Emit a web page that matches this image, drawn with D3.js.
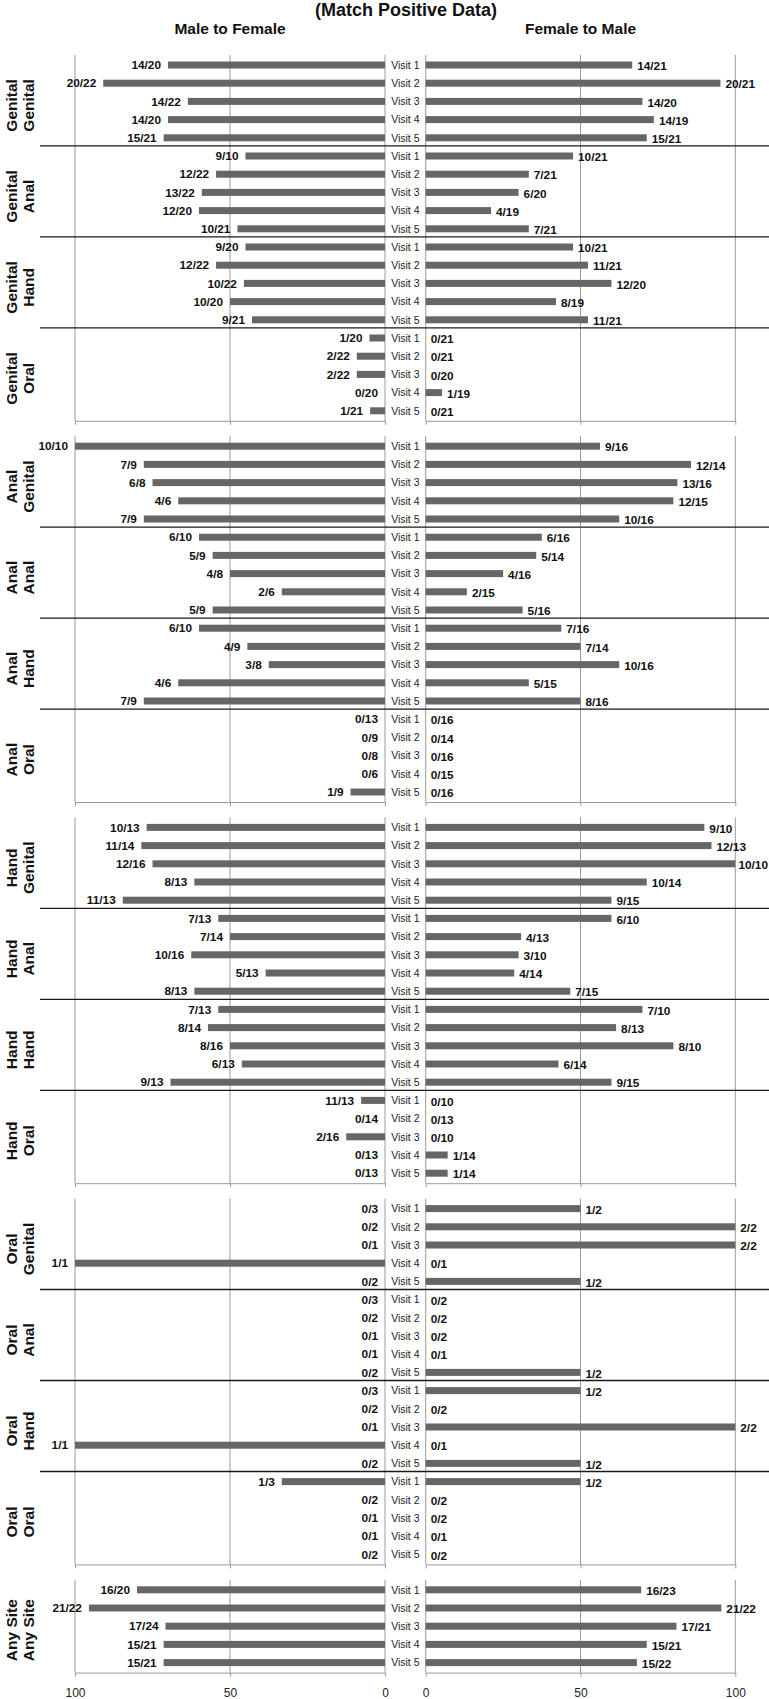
<!DOCTYPE html>
<html>
<head>
<meta charset="utf-8">
<script src="https://cdn.jsdelivr.net/npm/d3@7"></script>
<style>
  html, body { margin: 0; padding: 0; background: #fff; }
  svg { display: block; font-family: "Liberation Sans", Arial, sans-serif; }
</style>
</head>
<body>
<div id="chart"></div>
<script>
// ---------- data ----------
const title = "(Match Positive Data)";
const sideTitles = ["Male to Female", "Female to Male"];
const visits = ["Visit 1", "Visit 2", "Visit 3", "Visit 4", "Visit 5"];
const panelSource = ["Genital","Genital","Genital","Genital","Anal","Anal","Anal","Anal",
                     "Hand","Hand","Hand","Hand","Oral","Oral","Oral","Oral","Any Site"];
const panelTarget = ["Genital","Anal","Hand","Oral","Genital","Anal","Hand","Oral",
                     "Genital","Anal","Hand","Oral","Genital","Anal","Hand","Oral","Any Site"];
const tickValues = [0, 50, 100];

// Male to Female: labels and bar percentages (Visit 1..5 per panel)
const mfLabel = [
  ["14/20","20/22","14/22","14/20","15/21"],
  ["9/10","12/22","13/22","12/20","10/21"],
  ["9/20","12/22","10/22","10/20","9/21"],
  ["1/20","2/22","2/22","0/20","1/21"],
  ["10/10","7/9","6/8","4/6","7/9"],
  ["6/10","5/9","4/8","2/6","5/9"],
  ["6/10","4/9","3/8","4/6","7/9"],
  ["0/13","0/9","0/8","0/6","1/9"],
  ["10/13","11/14","12/16","8/13","11/13"],
  ["7/13","7/14","10/16","5/13","8/13"],
  ["7/13","8/14","8/16","6/13","9/13"],
  ["11/13","0/14","2/16","0/13","0/13"],
  ["0/3","0/2","0/1","1/1","0/2"],
  ["0/3","0/2","0/1","0/1","0/2"],
  ["0/3","0/2","0/1","1/1","0/2"],
  ["1/3","0/2","0/1","0/1","0/2"],
  ["16/20","21/22","17/24","15/21","15/21"]
];
const mfPct = [
  [70, 90.9, 63.6, 70, 71.4],
  [45, 54.5, 59.1, 60, 47.6],
  [45, 54.5, 45.5, 50, 42.9],
  [5, 9.1, 9.1, 0, 4.8],
  [100, 77.8, 75, 66.7, 77.8],
  [60, 55.6, 50, 33.3, 55.6],
  [60, 44.4, 37.5, 66.7, 77.8],
  [0, 0, 0, 0, 11.1],
  [76.9, 78.6, 75, 61.5, 84.6],
  [53.8, 50, 62.5, 38.5, 61.5],
  [53.8, 57.1, 50, 46.2, 69.2],
  [7.7, 0, 12.5, 0, 0],
  [0, 0, 0, 100, 0],
  [0, 0, 0, 0, 0],
  [0, 0, 0, 100, 0],
  [33.3, 0, 0, 0, 0],
  [80, 95.5, 70.8, 71.4, 71.4]
];
// Female to Male
const fmLabel = [
  ["14/21","20/21","14/20","14/19","15/21"],
  ["10/21","7/21","6/20","4/19","7/21"],
  ["10/21","11/21","12/20","8/19","11/21"],
  ["0/21","0/21","0/20","1/19","0/21"],
  ["9/16","12/14","13/16","12/15","10/16"],
  ["6/16","5/14","4/16","2/15","5/16"],
  ["7/16","7/14","10/16","5/15","8/16"],
  ["0/16","0/14","0/16","0/15","0/16"],
  ["9/10","12/13","10/10","10/14","9/15"],
  ["6/10","4/13","3/10","4/14","7/15"],
  ["7/10","8/13","8/10","6/14","9/15"],
  ["0/10","0/13","0/10","1/14","1/14"],
  ["1/2","2/2","2/2","0/1","1/2"],
  ["0/2","0/2","0/2","0/1","1/2"],
  ["1/2","0/2","2/2","0/1","1/2"],
  ["1/2","0/2","0/2","0/1","0/2"],
  ["16/23","21/22","17/21","15/21","15/22"]
];
const fmPct = [
  [66.7, 95.2, 70, 73.7, 71.4],
  [47.6, 33.3, 30, 21.1, 33.3],
  [47.6, 52.4, 60, 42.1, 52.4],
  [0, 0, 0, 5.3, 0],
  [56.3, 85.7, 81.3, 80, 62.5],
  [37.5, 35.7, 25, 13.3, 31.3],
  [43.8, 50, 62.5, 33.3, 50],
  [0, 0, 0, 0, 0],
  [90, 92.3, 100, 71.4, 60],
  [60, 30.8, 30, 28.6, 46.7],
  [70, 61.5, 80, 42.9, 60],
  [0, 0, 0, 7.1, 7.1],
  [50, 100, 100, 0, 50],
  [0, 0, 0, 0, 50],
  [50, 0, 100, 0, 50],
  [50, 0, 0, 0, 0],
  [69.6, 95.5, 81, 71.4, 68.2]
];

// ---------- layout ----------
const W = 769, H = 1699;
const rowStep = 18.2, groupStep = 381.2, firstRow = 65;
const nGroups = 5;

const xL = d3.scaleLinear().domain([0, 100]).range([385, 75]);
const xR = d3.scaleLinear().domain([0, 100]).range([425.7, 735.3]);

const svg = d3.select("#chart").append("svg").attr("width", W).attr("height", H);

const textCol = "#111", gridCol = "#9a9a9a", barCol = "#666666";

svg.append("text").attr("x", 406).attr("y", 16).attr("text-anchor", "middle")
  .attr("font-size", 18).attr("font-weight", "bold").attr("fill", textCol).text(title);
svg.append("text").attr("x", xL(50)).attr("y", 34).attr("text-anchor", "middle")
  .attr("font-size", 15.5).attr("font-weight", "bold").attr("fill", textCol).text(sideTitles[0]);
svg.append("text").attr("x", xR(50)).attr("y", 34).attr("text-anchor", "middle")
  .attr("font-size", 15.5).attr("font-weight", "bold").attr("fill", textCol).text(sideTitles[1]);

// rows per group
const panelGroup = panelSource.map((s, p) => p < 16 ? Math.floor(p / 4) : 4);
const panelSlot = panelSource.map((s, p) => p < 16 ? p % 4 : 0);
const groupRows = d3.range(nGroups).map(g => g < 4 ? 20 : 5);

const yScales = d3.range(nGroups).map(g => {
  const y0 = firstRow + g * groupStep;
  return d3.scaleLinear().domain([0, 1]).range([y0, y0 + rowStep]);
});

// group frames
d3.range(nGroups).forEach(g => {
  const y = yScales[g];
  const top = y(0) - 10, bottom = y(groupRows[g] - 1) + 10;
  const gg = svg.append("g");
  [xL, xR].forEach((x, side) => {
    gg.selectAll(null).data(tickValues).enter().append("line")
      .attr("x1", d => x(d)).attr("x2", d => x(d))
      .attr("y1", top).attr("y2", bottom)
      .attr("stroke", gridCol).attr("stroke-width", 1);
    const ax = d3.axisBottom(x).tickValues(tickValues).tickSize(4).tickSizeOuter(0).tickPadding(12);
    const a = gg.append("g").attr("transform", `translate(0,${bottom})`).call(ax);
    a.select(".domain").attr("stroke", gridCol);
    a.selectAll(".tick line").attr("stroke", gridCol);
    if (g === nGroups - 1) {
      a.selectAll(".tick text").attr("font-size", 12).attr("fill", "#222")
        .attr("font-family", "Liberation Sans, Arial, sans-serif");
    } else {
      a.selectAll(".tick text").remove();
    }
  });
  if (groupRows[g] === 20) {
    [1, 2, 3].forEach(k => {
      const sy = y(k * 5 - 0.5) - 1;
      gg.append("line").attr("x1", 40).attr("x2", W).attr("y1", sy).attr("y2", sy)
        .attr("stroke", "#1a1a1a").attr("stroke-width", 1.3);
    });
  }
});

// panels
panelSource.forEach((src, p) => {
  const g = panelGroup[p];
  const y = yScales[g];
  const base = panelSlot[p] * 5;
  const pg = svg.append("g");

  const rows = visits.map((v, i) => ({
    v, i: base + i,
    mf: mfPct[p][i], mfL: mfLabel[p][i],
    fm: fmPct[p][i], fmL: fmLabel[p][i]
  }));

  pg.selectAll(".barL").data(rows).enter().append("rect")
    .attr("x", d => xL(d.mf)).attr("width", d => xL(0) - xL(d.mf))
    .attr("y", d => y(d.i) - 3.5).attr("height", 7).attr("fill", barCol);
  pg.selectAll(".barR").data(rows).enter().append("rect")
    .attr("x", xR(0)).attr("width", d => xR(d.fm) - xR(0))
    .attr("y", d => y(d.i) - 3.5).attr("height", 7).attr("fill", barCol);

  pg.selectAll(".lblL").data(rows).enter().append("text")
    .attr("x", d => xL(d.mf) - 7).attr("y", d => y(d.i)).attr("dy", "0.36em")
    .attr("text-anchor", "end").attr("font-size", 11.8).attr("font-weight", "bold")
    .attr("fill", textCol).text(d => d.mfL);
  pg.selectAll(".lblR").data(rows).enter().append("text")
    .attr("x", d => xR(d.fm) + 5).attr("y", d => y(d.i) + 1).attr("dy", "0.36em")
    .attr("text-anchor", "start").attr("font-size", 11.8).attr("font-weight", "bold")
    .attr("fill", textCol).text(d => d.fmL)
    .each(function() {
      const w = this.getComputedTextLength();
      const x0 = +this.getAttribute("x");
      if (x0 + w > W - 1) this.setAttribute("x", W - 1 - w);
    });

  pg.selectAll(".visit").data(rows).enter().append("text")
    .attr("x", (xL(0) + xR(0)) / 2).attr("y", d => y(d.i)).attr("dy", "0.36em")
    .attr("text-anchor", "middle").attr("font-size", 10.5).attr("fill", "#222")
    .text(d => d.v);

  const cy = y(base + 2) + 4;
  const lab = pg.append("text").attr("transform", `translate(0,${cy}) rotate(-90)`)
    .attr("text-anchor", "middle").attr("font-size", 15.5).attr("font-weight", "bold").attr("fill", textCol);
  lab.append("tspan").attr("x", 0).attr("y", 16.5).text(src);
  lab.append("tspan").attr("x", 0).attr("y", 33.5).text(panelTarget[p]);
});
</script>
</body>
</html>
